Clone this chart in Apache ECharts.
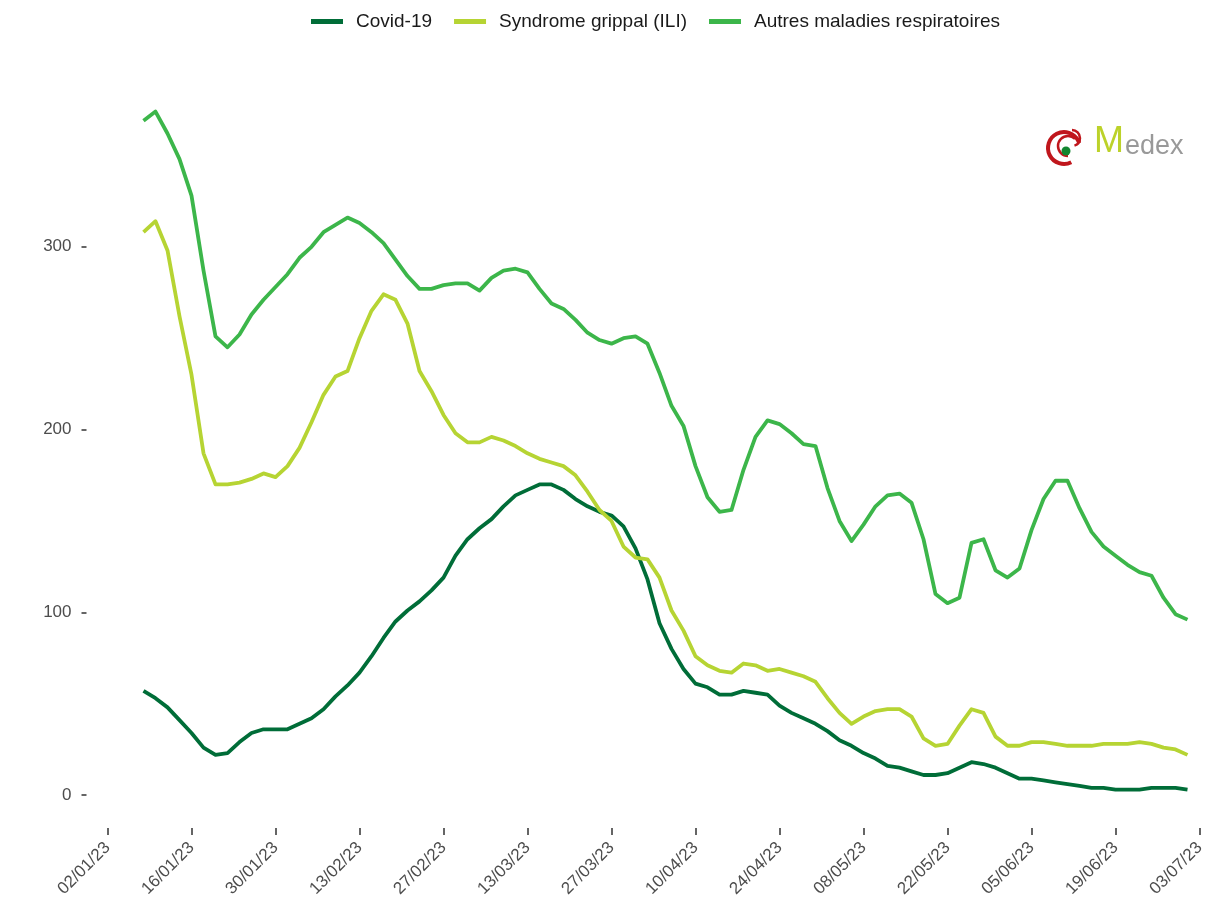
<!DOCTYPE html>
<html>
<head>
<meta charset="utf-8">
<script src="https://cdn.jsdelivr.net/npm/echarts@6/dist/echarts.min.js"></script>
<style>
html,body{margin:0;padding:0;background:#fff;}
#chart{width:1208px;height:901px;}
</style>
</head>
<body>
<div id="chart"></div>
<script>
// Dates (every 2 days) and values
const dates = [
'08/01/23','10/01/23','12/01/23','14/01/23','16/01/23','18/01/23','20/01/23','22/01/23','24/01/23','26/01/23',
'28/01/23','30/01/23','01/02/23','03/02/23','05/02/23','07/02/23','09/02/23','11/02/23','13/02/23','15/02/23',
'17/02/23','19/02/23','21/02/23','23/02/23','25/02/23','27/02/23','01/03/23','03/03/23','05/03/23','07/03/23',
'09/03/23','11/03/23','13/03/23','15/03/23','17/03/23','19/03/23','21/03/23','23/03/23','25/03/23','27/03/23',
'29/03/23','31/03/23','02/04/23','04/04/23','06/04/23','08/04/23','10/04/23','12/04/23','14/04/23','16/04/23',
'18/04/23','20/04/23','22/04/23','24/04/23','26/04/23','28/04/23','30/04/23','02/05/23','04/05/23','06/05/23',
'08/05/23','10/05/23','12/05/23','14/05/23','16/05/23','18/05/23','20/05/23','22/05/23','24/05/23','26/05/23',
'28/05/23','30/05/23','01/06/23','03/06/23','05/06/23','07/06/23','09/06/23','11/06/23','13/06/23','15/06/23',
'17/06/23','19/06/23','21/06/23','23/06/23','25/06/23','27/06/23','29/06/23','01/07/23'
];

const covid = [
57,53,48,41,34,26,22,23,29,34,
36,36,36,39,42,47,54,60,67,76,
86,95,101,106,112,119,131,140,146,151,
158,164,167,170,170,167,162,158,155,153,
147,135,118,94,80,69,61,59,55,55,
57,56,55,49,45,42,39,35,30,27,
23,20,16,15,13,11,11,12,15,18,
17,15,12,9,9,8,7,6,5,4,
4,3,3,3,4,4,4,3
];

const ili = [
308,314,298,262,230,187,170,170,171,173,
176,174,180,190,204,219,229,232,250,265,
274,271,258,232,221,208,198,193,193,196,
194,191,187,184,182,180,175,166,156,150,
136,130,129,119,101,90,76,71,68,67,
72,71,68,69,67,65,62,53,45,39,
43,46,47,47,43,31,27,28,38,47,
45,32,27,27,29,29,28,27,27,27,
28,28,28,29,28,26,25,22
];

const autres = [
369,374,362,348,328,287,251,245,252,263,
271,278,285,294,300,308,312,316,313,308,
302,293,284,277,277,279,280,280,276,283,
287,288,286,277,269,266,260,253,249,247,
250,251,247,231,213,202,180,163,155,156,
178,196,205,203,198,192,191,168,150,139,
148,158,164,165,160,140,110,105,108,138,
140,123,119,124,145,162,172,172,157,144,
136,131,126,122,120,108,99,96
];

const tickLabels = ['02/01/23','16/01/23','30/01/23','13/02/23','27/02/23','13/03/23','27/03/23',
  '10/04/23','24/04/23','08/05/23','22/05/23','05/06/23','19/06/23','03/07/23'];
const yTicks = [0, 100, 200, 300];

const seriesNames = ['Covid-19', 'Syndrome grippal (ILI)', 'Autres maladies respiratoires'];
const seriesColors = ['#006d38', '#b6d433', '#3cb64a'];

function dayOf(s) {
  const p = s.split('/');
  const t = Date.UTC(2000 + (+p[2]), (+p[1]) - 1, +p[0]);
  return Math.round((t - Date.UTC(2023, 0, 2)) / 86400000);
}
const tickDays = tickLabels.map(dayOf);
const labelByDay = {};
tickLabels.forEach((l, i) => { labelByDay[tickDays[i]] = l; });

const chart = echarts.init(document.getElementById('chart'), null, {renderer: 'canvas'});
const vals = [covid, ili, autres];

const option = {
  backgroundColor: '#ffffff',
  animation: false,
  legend: {
    top: 7,
    left: 306,
    itemWidth: 32,
    itemHeight: 5,
    itemGap: 22,
    icon: 'rect',
    textStyle: {fontFamily: 'Liberation Sans', fontSize: 19, color: '#1a1a1a', padding: [0, 0, 0, 8]},
    data: seriesNames
  },
  grid: {left: 86.5, right: 2.5, top: 75, bottom: 73, outerBoundsMode: 'none', containLabel: false},
  xAxis: {
    type: 'value',
    min: -3.5,
    max: 183,
    axisLine: {show: false, onZero: false},
    splitLine: {show: false},
    axisTick: {show: true, length: 7, customValues: tickDays, lineStyle: {color: '#333333', width: 1.5}},
    axisLabel: {
      customValues: tickDays,
      rotate: 45,
      margin: 17,
      hideOverlap: false,
      fontFamily: 'Liberation Sans',
      fontSize: 17,
      color: '#4d4d4d',
      formatter: v => labelByDay[v] || ''
    }
  },
  yAxis: {
    type: 'value',
    min: -18,
    max: 394,
    axisLine: {show: false, onZero: false},
    splitLine: {show: false},
    axisTick: {show: true, length: 5, customValues: yTicks, lineStyle: {color: '#333333', width: 1.5}},
    axisLabel: {
      customValues: yTicks,
      margin: 15,
      fontFamily: 'Liberation Sans',
      fontSize: 17,
      color: '#4d4d4d'
    }
  },
  series: seriesNames.map((n, k) => ({
    name: n,
    type: 'line',
    showSymbol: false,
    symbol: 'none',
    color: seriesColors[k],
    lineStyle: {width: 3.8, color: seriesColors[k], join: 'round'},
    data: dates.map((d, i) => [dayOf(d), vals[k][i]])
  })),
  graphic: [
    {type: 'arc', shape: {cx: 1064, cy: 148, r: 16, startAngle: Math.PI * 0.35, endAngle: Math.PI * 1.9}, style: {stroke: '#c0161c', lineWidth: 4, fill: null}},
    {type: 'arc', shape: {cx: 1068, cy: 146, r: 10, startAngle: Math.PI * 0.5, endAngle: Math.PI * 1.75}, style: {stroke: '#c0161c', lineWidth: 2.5, fill: null}},
    {type: 'arc', shape: {cx: 1072, cy: 138, r: 8, startAngle: Math.PI * 1.5, endAngle: Math.PI * 0.4}, style: {stroke: '#c0161c', lineWidth: 2.5, fill: null}},
    {type: 'circle', shape: {cx: 1066, cy: 151, r: 4.5}, style: {fill: '#11862f'}},
    {type: 'text', left: 1094, top: 124, style: {text: 'M', font: '36px "Liberation Sans"', fill: '#bcd22a'}},
    {type: 'text', left: 1125, top: 133, style: {text: 'edex', font: '27px "Liberation Sans"', fill: '#999999'}}
  ]
};
chart.setOption(option);
</script>
</body>
</html>
